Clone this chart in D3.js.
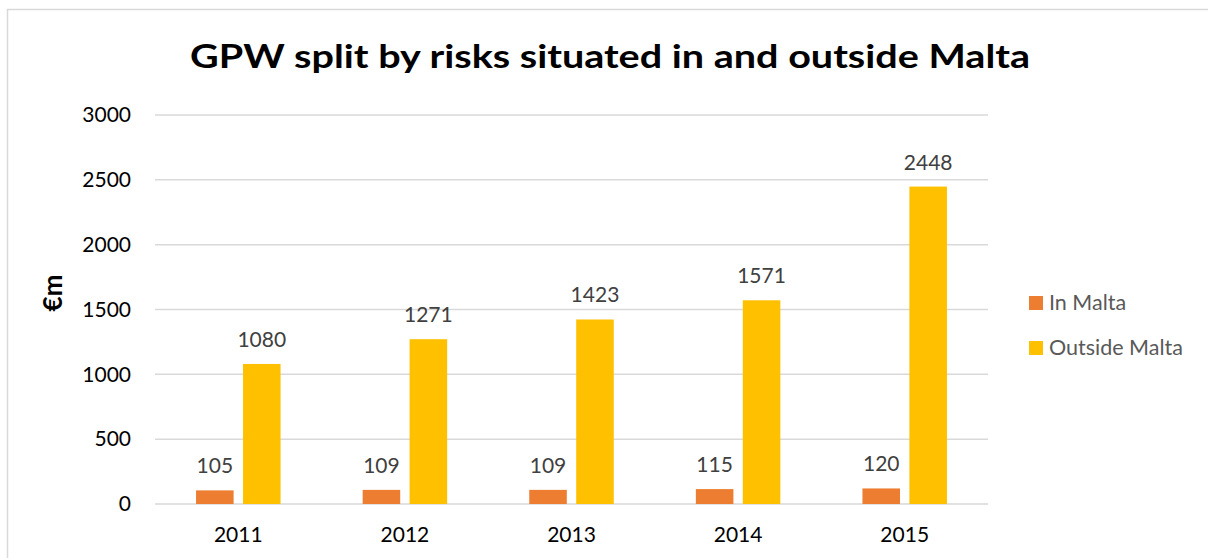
<!DOCTYPE html>
<html>
<head>
<meta charset="utf-8">
<script src="https://cdn.jsdelivr.net/npm/d3@7"></script>
<style>
  html, body { margin: 0; padding: 0; background: #fff; }
  svg { display: block; font-family: Lato, "Open Sans", sans-serif; }
</style>
</head>
<body>
<svg id="chart" width="1208" height="558"></svg>
<script>
// GPW by year, split by where the risk is situated (€m)
const years = ["2011", "2012", "2013", "2014", "2015"];
const inMalta = [105, 109, 109, 115, 120];
const outsideMalta = [1080, 1271, 1423, 1571, 2448];
const seriesNames = ["In Malta", "Outside Malta"];
const seriesColors = ["#ED7D31", "#FFC000"];
const yTicks = [0, 500, 1000, 1500, 2000, 2500, 3000];

const svg = d3.select("#chart");

// chart frame
svg.append("rect")
  .attr("x", 7.5).attr("y", 9.5)
  .attr("width", 1220).attr("height", 600)
  .attr("fill", "none").attr("stroke", "#d9d9d9").attr("stroke-width", 1.5);

const plot = { left: 155, right: 988, top: 115, bottom: 504 };

const x = d3.scaleBand().domain(years).range([plot.left, plot.right]);
const half = 42.25;
const xs = d3.scaleBand().domain(seriesNames)
  .range([x.bandwidth() / 2 - half, x.bandwidth() / 2 + half])
  .paddingInner(0.2).paddingOuter(0);
const y = d3.scaleLinear().domain([0, 3000]).range([plot.bottom, plot.top]);

// gridlines
svg.append("g").selectAll("line").data(yTicks).join("line")
  .attr("x1", plot.left).attr("x2", plot.right)
  .attr("y1", d => y(d)).attr("y2", d => y(d))
  .attr("stroke", "#d9d9d9").attr("stroke-width", 1.5);

// y axis tick labels
const yAxis = d3.axisLeft(y).tickValues(yTicks).tickSize(0).tickPadding(24).tickFormat(d3.format("d"));
const yg = svg.append("g").attr("transform", `translate(${plot.left},0)`).call(yAxis);
yg.select(".domain").remove();
yg.selectAll("text").attr("font-size", 21).attr("fill", "#000").attr("font-family", "Lato, sans-serif");

// x axis labels
const xAxis = d3.axisBottom(x).tickSize(0).tickPadding(23);
const xg = svg.append("g").attr("transform", `translate(0,${plot.bottom})`).call(xAxis);
xg.select(".domain").remove();
xg.selectAll("text").attr("font-size", 21).attr("fill", "#000").attr("font-family", "Lato, sans-serif");

// bars
const rows = years.map((yr, i) => ({ year: yr, values: [inMalta[i], outsideMalta[i]] }));
const groups = svg.append("g").selectAll("g").data(rows).join("g")
  .attr("transform", d => `translate(${x(d.year)},0)`);

groups.selectAll("rect").data(d => d.values.map((v, k) => ({ v, k })))
  .join("rect")
  .attr("x", d => xs(seriesNames[d.k]))
  .attr("width", xs.bandwidth())
  .attr("y", d => y(d.v))
  .attr("height", d => y(0) - y(d.v))
  .attr("fill", d => seriesColors[d.k]);

groups.selectAll("text.val").data(d => d.values.map((v, k) => ({ v, k })))
  .join("text").attr("class", "val")
  .attr("x", d => xs(seriesNames[d.k]) + xs.bandwidth() / 2)
  .attr("y", d => y(d.v) - 17)
  .attr("text-anchor", "middle")
  .attr("font-size", 21)
  .attr("fill", "#404040")
  .text(d => d.v);

// title
svg.append("text")
  .attr("x", 610).attr("y", 68)
  .attr("text-anchor", "middle")
  .attr("font-size", 33).attr("font-weight", "bold")
  .attr("fill", "#000")
  .attr("textLength", 840).attr("lengthAdjust", "spacingAndGlyphs")
  .text("GPW split by risks situated in and outside Malta");

// y axis title
svg.append("text")
  .attr("transform", "translate(62,293) rotate(-90)")
  .attr("text-anchor", "middle")
  .attr("font-size", 26).attr("font-weight", "bold")
  .attr("fill", "#000")
  .text("€m");

// legend
const legend = svg.append("g").selectAll("g").data(seriesNames).join("g")
  .attr("transform", (d, i) => `translate(1029,${296 + i * 45})`);
legend.append("rect").attr("width", 14).attr("height", 14).attr("fill", (d, i) => seriesColors[i]);
legend.append("text").attr("x", 20).attr("y", 14)
  .attr("font-size", 21.5).attr("fill", "#595959").text(d => d);
</script>
</body>
</html>
